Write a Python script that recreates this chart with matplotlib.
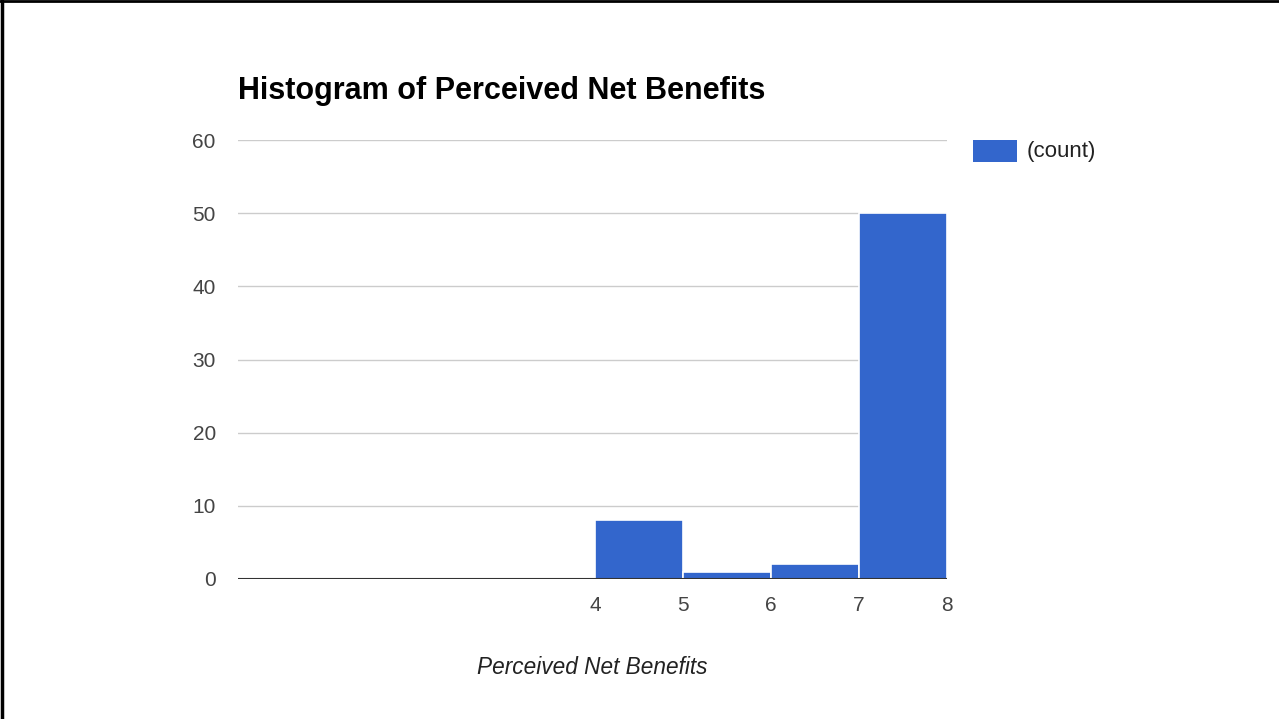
import numpy as np
from matplotlib import pyplot as plt
from matplotlib.lines import Line2D
from matplotlib.patches import Rectangle

plt.rcParams['font.family'] = ['Liberation Sans', 'DejaVu Sans']

# histogram data
bin_edges = [4, 5, 6, 7, 8]
counts = [8, 1, 2, 50]
yticks = [0, 10, 20, 30, 40, 50, 60]
xticks = [4, 5, 6, 7, 8]
bar_color = '#3366cc'

fig = plt.figure(figsize=(12.79, 7.19), dpi=100)
ax = fig.add_axes([238/1279, 1-579/719, 709/1279, 439/719])

ax.bar(bin_edges[:-1], counts, width=np.diff(bin_edges), align='edge',
       color=bar_color, edgecolor='white', linewidth=1.2, zorder=3)

ax.set_xlim(-0.06, 8)
ax.set_ylim(0, 60)
ax.set_yticks(yticks)
ax.set_xticks(xticks)
ax.grid(axis='y', color='#cccccc', linewidth=1, zorder=0)
ax.axhline(0, color='#333333', linewidth=1.5, zorder=4)
for s in ax.spines.values():
    s.set_visible(False)
ax.tick_params(axis='both', length=0, labelsize=15, labelcolor='#444444')
ax.tick_params(axis='y', pad=16)
ax.tick_params(axis='x', pad=12)

ax.set_xlabel('Perceived Net Benefits', style='italic', fontsize=16.3,
              color='#222222', labelpad=30)

fig.text(238/1279, 1-99/719, 'Histogram of Perceived Net Benefits',
         fontsize=22, fontweight='bold', color='black', ha='left', va='baseline')

# legend swatch + label
fig.add_artist(Rectangle((973/1279, 1-162/719), 44/1279, 22/719,
                         facecolor=bar_color, edgecolor='none',
                         transform=fig.transFigure))
fig.text(1027/1279, 1-152/719, '(count)', fontsize=16, color='#222222',
         ha='left', va='center')

# border on the left and top of the picture
fig.add_artist(Line2D([1.5/1279, 1.5/1279], [0, 1], color='black', linewidth=2.5,
                      transform=fig.transFigure))
fig.add_artist(Line2D([0, 1], [1-0.8/719, 1-0.8/719], color='black', linewidth=2,
                      transform=fig.transFigure))

fig.savefig('out.png', dpi=100, facecolor='white')
